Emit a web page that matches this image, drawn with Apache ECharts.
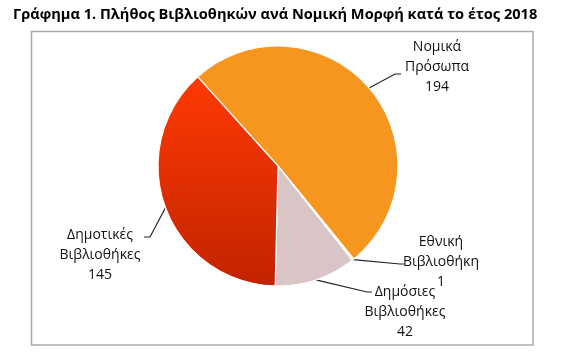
<!DOCTYPE html>
<html>
<head>
<meta charset="utf-8">
<script src="https://cdn.jsdelivr.net/npm/echarts@6/dist/echarts.min.js"></script>
<style>
  html, body { margin: 0; padding: 0; background: #fff; }
  #chart { width: 575px; height: 355px; }
</style>
</head>
<body>
<div id="chart"></div>
<script>
// κατηγορίες και τιμές
const names = ['Νομικά\nΠρόσωπα', 'Εθνική\nΒιβλιοθήκη', 'Δημόσιες\nΒιβλιοθήκες', 'Δημοτικές\nΒιβλιοθήκες'];
const values = [194, 1, 42, 145];

const colors = [
  '#F7961F',
  '#F4E0A6',
  '#D9C5C5',
  new echarts.graphic.LinearGradient(0, 0, 0, 1, [
    { offset: 0, color: '#FF3A03' },
    { offset: 1, color: '#C22300' }
  ])
];

// θέση ετικέτας (κέντρο) και σπάσιμο γραμμής
const labelSpots = [
  { x: 437, y: 67, elbow: [395, 74], end: [401, 74] },
  { x: 441, y: 262, elbow: [400, 264], end: [404, 264] },
  { x: 405, y: 312, elbow: [367, 292], end: [372, 292] },
  { x: 100, y: 255, elbow: [150, 237], end: [144, 237] }
];

const chart = echarts.init(document.getElementById('chart'));

const option = {
  animation: false,
  title: {
    text: 'Γράφημα 1. Πλήθος Βιβλιοθηκών ανά Νομική Μορφή κατά το έτος 2018',
    left: 8,
    top: 2,
    textStyle: {
      fontFamily: 'Open Sans',
      fontSize: 14.6,
      fontWeight: 'bold',
      color: '#000'
    }
  },
  graphic: [{
    type: 'rect',
    shape: { x: 31.5, y: 31.5, width: 501.5, height: 313.5 },
    style: { fill: null, stroke: '#ABABAB', lineWidth: 1.5 },
    z: -1
  }],
  series: [{
    type: 'pie',
    center: [278, 166],
    radius: 120,
    startAngle: 132,
    clockwise: true,
    avoidLabelOverlap: false,
    itemStyle: {
      borderColor: '#fff',
      borderWidth: 1.2
    },
    label: {
      show: true,
      position: 'outside',
      formatter: '{b}\n{c}',
      fontFamily: 'Open Sans',
      fontSize: 14,
      lineHeight: 20,
      color: '#111',
      align: 'center'
    },
    labelLine: {
      show: true,
      length: 10,
      length2: 10,
      lineStyle: { color: '#222', width: 1.2 }
    },
    labelLayout: function (params) {
      const s = labelSpots[params.dataIndex];
      const start = params.labelLinePoints ? params.labelLinePoints[0] : s.elbow;
      return {
        x: s.x,
        y: s.y,
        align: 'center',
        verticalAlign: 'middle',
        labelLinePoints: [start, s.elbow, s.end]
      };
    },
    data: names.map((n, i) => ({
      name: n,
      value: values[i],
      itemStyle: { color: colors[i] }
    }))
  }]
};

chart.setOption(option);
</script>
</body>
</html>
